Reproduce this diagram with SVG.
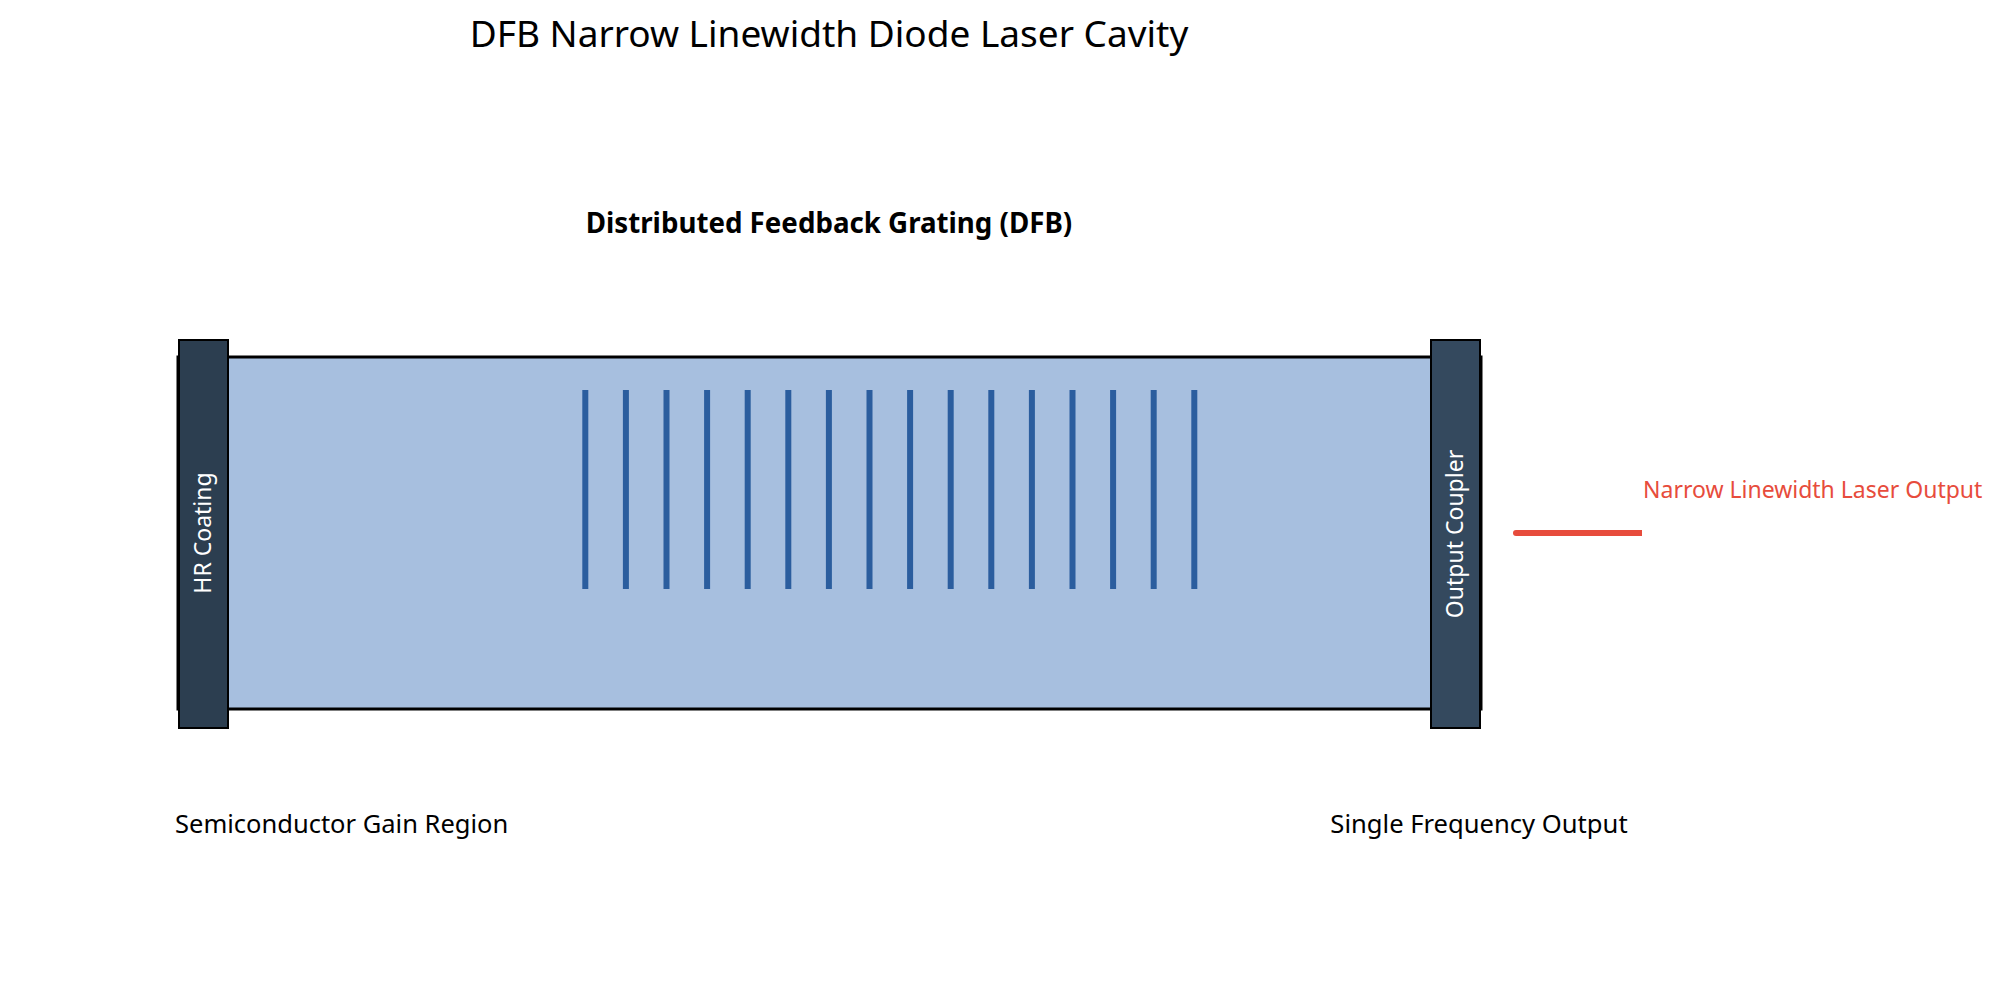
<svg xmlns="http://www.w3.org/2000/svg" width="2000" height="991" viewBox="0 0 2000 991">
<style>
.t{font-family:"Noto Sans","Liberation Sans",sans-serif;fill:#000}
.w{font-family:"Noto Sans","Liberation Sans",sans-serif;fill:#fff;font-size:23px}
.g{stroke:#2b5d9e;stroke-width:6}
.mir{stroke:#000;stroke-width:2}
</style>
<rect width="2000" height="991" fill="#fff"/>
<text class="t" x="829" y="47" font-size="37" text-anchor="middle">DFB Narrow Linewidth Diode Laser Cavity</text>
<g id="gain-region">
<rect x="178" y="357" width="1303" height="352" fill="#a7bfdf" stroke="#000" stroke-width="3"/>
</g>
<g id="dfb-grating">
<text class="t" x="829" y="233" font-size="27.7" font-weight="bold" text-anchor="middle">Distributed Feedback Grating (DFB)</text>
<g class="g">
<line x1="585.3" y1="390" x2="585.3" y2="589"/>
<line x1="625.9" y1="390" x2="625.9" y2="589"/>
<line x1="666.5" y1="390" x2="666.5" y2="589"/>
<line x1="707.1" y1="390" x2="707.1" y2="589"/>
<line x1="747.7" y1="390" x2="747.7" y2="589"/>
<line x1="788.3" y1="390" x2="788.3" y2="589"/>
<line x1="828.9" y1="390" x2="828.9" y2="589"/>
<line x1="869.5" y1="390" x2="869.5" y2="589"/>
<line x1="910.1" y1="390" x2="910.1" y2="589"/>
<line x1="950.7" y1="390" x2="950.7" y2="589"/>
<line x1="991.3" y1="390" x2="991.3" y2="589"/>
<line x1="1031.9" y1="390" x2="1031.9" y2="589"/>
<line x1="1072.5" y1="390" x2="1072.5" y2="589"/>
<line x1="1113.1" y1="390" x2="1113.1" y2="589"/>
<line x1="1153.7" y1="390" x2="1153.7" y2="589"/>
<line x1="1194.3" y1="390" x2="1194.3" y2="589"/>
</g>
</g>
<g id="hr-coating">
<rect class="mir" x="179" y="340" width="49" height="388" fill="#2c3e50"/>
<text class="w" transform="translate(211,533) rotate(-90)" text-anchor="middle">HR Coating</text>
</g>
<g id="output-coupler">
<rect class="mir" x="1431" y="340" width="49" height="388" fill="#34495e"/>
<text class="w" transform="translate(1463,534) rotate(-90)" text-anchor="middle">Output Coupler</text>
</g>
<g id="connectors">
<line x1="1516" y1="533" x2="1642" y2="533" stroke="#e74c3c" stroke-width="6"/>
<circle cx="1516" cy="533" r="3" fill="#e74c3c"/>
</g>
<g id="laser-output-label">
<text class="t" x="1643" y="498" font-size="23" style="fill:#e74c3c">Narrow Linewidth Laser Output</text>
</g>
<g id="labels">
<text class="t" x="175" y="833" font-size="25.5">Semiconductor Gain Region</text>
<text class="t" x="1479" y="833" font-size="25.6" text-anchor="middle">Single Frequency Output</text>
</g>
</svg>
